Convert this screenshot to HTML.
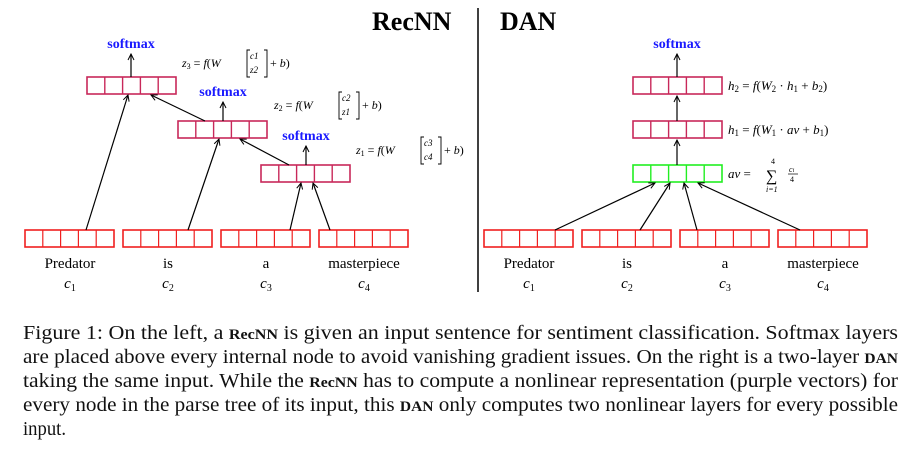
<!DOCTYPE html>
<html><head><style>
body{margin:0;width:924px;height:456px;background:#fff;overflow:hidden;position:relative;font-family:"Liberation Serif",serif}
</style></head><body>
<svg width="924" height="310" style="position:absolute;left:0;top:0" font-family="Liberation Serif, serif">
<defs><marker id="a" markerWidth="8" markerHeight="8" refX="7" refY="4" orient="auto" markerUnits="userSpaceOnUse"><path d="M1,1 L7,4 L1,7" fill="none" stroke="#000" stroke-width="1"/></marker>
<g id="rb"><rect x="0" y="0" width="89" height="17" fill="none" stroke="#c8285a" stroke-width="1.6"/><path d="M17.8,0v17M35.6,0v17M53.4,0v17M71.2,0v17" stroke="#c8285a" stroke-width="1.4"/></g>
<g id="red"><rect x="0" y="0" width="89" height="17" fill="none" stroke="#f02020" stroke-width="1.6"/><path d="M17.8,0v17M35.6,0v17M53.4,0v17M71.2,0v17" stroke="#f02020" stroke-width="1.2"/></g>
<g id="gr"><rect x="0" y="0" width="89" height="17" fill="none" stroke="#22ee22" stroke-width="1.6"/><path d="M17.8,0v17M35.6,0v17M53.4,0v17M71.2,0v17" stroke="#22ee22" stroke-width="1.4"/></g>
</defs>
<text x="372" y="30" font-size="26" font-weight="bold">RecNN</text>
<text x="500" y="30" font-size="26" font-weight="bold">DAN</text>
<line x1="478" y1="8" x2="478" y2="292" stroke="#000" stroke-width="1.5"/>
<g font-weight="bold" fill="#1a1aff" font-size="14" text-anchor="middle">
<text x="131" y="48">softmax</text><text x="223" y="96">softmax</text><text x="306" y="140">softmax</text><text x="677" y="48">softmax</text></g>
<use href="#rb" x="87" y="77"/><use href="#rb" x="178" y="121"/><use href="#rb" x="261" y="165"/>
<use href="#rb" x="633" y="77"/><use href="#rb" x="633" y="121"/><use href="#gr" x="633" y="165"/>
<use href="#red" x="25" y="230"/><use href="#red" x="123" y="230"/><use href="#red" x="221" y="230"/><use href="#red" x="319" y="230"/>
<use href="#red" x="484" y="230"/><use href="#red" x="582" y="230"/><use href="#red" x="680" y="230"/><use href="#red" x="778" y="230"/>
<g stroke="#000" stroke-width="1.2" marker-end="url(#a)">
<line x1="131" y1="77" x2="131" y2="54"/><line x1="223" y1="121" x2="223" y2="102"/><line x1="306" y1="165" x2="306" y2="146"/>
<line x1="677" y1="77" x2="677" y2="54"/><line x1="677" y1="121" x2="677" y2="96"/><line x1="677" y1="165" x2="677" y2="140"/>
<line x1="86" y1="230" x2="128" y2="95"/><line x1="188" y1="230" x2="219" y2="139"/><line x1="290" y1="230" x2="301" y2="183"/><line x1="330" y1="230" x2="313" y2="183"/>
<line x1="289" y1="165" x2="240" y2="139"/><line x1="205" y1="121" x2="151" y2="95"/>
<line x1="555" y1="230" x2="655" y2="183"/><line x1="640" y1="230" x2="670" y2="183"/><line x1="697" y1="230" x2="684" y2="183"/><line x1="800" y1="230" x2="698" y2="183"/>
</g>
<g font-size="15" text-anchor="middle">
<text x="70" y="268">Predator</text><text x="168" y="268">is</text><text x="266" y="268">a</text><text x="364" y="268">masterpiece</text>
<text x="529" y="268">Predator</text><text x="627" y="268">is</text><text x="725" y="268">a</text><text x="823" y="268">masterpiece</text>
<g font-style="italic"><text x="70" y="288">c<tspan font-size="10" dy="3" font-style="normal">1</tspan></text><text x="168" y="288">c<tspan font-size="10" dy="3" font-style="normal">2</tspan></text><text x="266" y="288">c<tspan font-size="10" dy="3" font-style="normal">3</tspan></text><text x="364" y="288">c<tspan font-size="10" dy="3" font-style="normal">4</tspan></text>
<text x="529" y="288">c<tspan font-size="10" dy="3" font-style="normal">1</tspan></text><text x="627" y="288">c<tspan font-size="10" dy="3" font-style="normal">2</tspan></text><text x="725" y="288">c<tspan font-size="10" dy="3" font-style="normal">3</tspan></text><text x="823" y="288">c<tspan font-size="10" dy="3" font-style="normal">4</tspan></text></g>
</g>
<g font-size="12">
<text x="182" y="67"><tspan font-style="italic">z</tspan><tspan font-size="8" dy="2">3</tspan><tspan dy="-2"> = </tspan><tspan font-style="italic">f</tspan>(<tspan font-style="italic">W</tspan></text>
<text x="250" y="59" font-size="9" font-style="italic">c1</text><text x="250" y="73" font-size="9" font-style="italic">z2</text>
<path d="M250,50h-3v27h3M264,50h3v27h-3" fill="none" stroke="#000" stroke-width="0.9"/><text x="270" y="67">+ <tspan font-style="italic">b</tspan>)</text>
<text x="274" y="109"><tspan font-style="italic">z</tspan><tspan font-size="8" dy="2">2</tspan><tspan dy="-2"> = </tspan><tspan font-style="italic">f</tspan>(<tspan font-style="italic">W</tspan></text>
<text x="342" y="101" font-size="9" font-style="italic">c2</text><text x="342" y="115" font-size="9" font-style="italic">z1</text>
<path d="M342,92h-3v27h3M356,92h3v27h-3" fill="none" stroke="#000" stroke-width="0.9"/><text x="362" y="109">+ <tspan font-style="italic">b</tspan>)</text>
<text x="356" y="154"><tspan font-style="italic">z</tspan><tspan font-size="8" dy="2">1</tspan><tspan dy="-2"> = </tspan><tspan font-style="italic">f</tspan>(<tspan font-style="italic">W</tspan></text>
<text x="424" y="146" font-size="9" font-style="italic">c3</text><text x="424" y="160" font-size="9" font-style="italic">c4</text>
<path d="M424,137h-3v27h3M438,137h3v27h-3" fill="none" stroke="#000" stroke-width="0.9"/><text x="444" y="154">+ <tspan font-style="italic">b</tspan>)</text>
</g>
<g font-size="13">
<text x="728" y="90"><tspan font-style="italic">h</tspan><tspan font-size="9" dy="2">2</tspan><tspan dy="-2"> = </tspan><tspan font-style="italic">f</tspan>(<tspan font-style="italic">W</tspan><tspan font-size="9" dy="2">2</tspan><tspan dy="-2"> · </tspan><tspan font-style="italic">h</tspan><tspan font-size="9" dy="2">1</tspan><tspan dy="-2"> + </tspan><tspan font-style="italic">b</tspan><tspan font-size="9" dy="2">2</tspan><tspan dy="-2">)</tspan></text>
<text x="728" y="134"><tspan font-style="italic">h</tspan><tspan font-size="9" dy="2">1</tspan><tspan dy="-2"> = </tspan><tspan font-style="italic">f</tspan>(<tspan font-style="italic">W</tspan><tspan font-size="9" dy="2">1</tspan><tspan dy="-2"> · </tspan><tspan font-style="italic">av</tspan> + <tspan font-style="italic">b</tspan><tspan font-size="9" dy="2">1</tspan><tspan dy="-2">)</tspan></text>
<text x="728" y="178"><tspan font-style="italic">av</tspan> = </text>
<text x="766" y="181" font-size="16">∑</text><text x="771" y="164" font-size="8">4</text><text x="766" y="192" font-size="8" font-style="italic">i=1</text>
<text x="789" y="172" font-size="8" font-style="italic">c<tspan font-size="6">i</tspan></text><line x1="788" y1="174" x2="798" y2="174" stroke="#000" stroke-width="0.7"/><text x="790" y="182" font-size="8">4</text>
</g>
</svg>
<svg width="924" height="146" style="position:absolute;left:0;top:310px" font-family="Liberation Serif, serif" font-size="20.5" fill="#111">
<text x="23" y="29" textLength="875" lengthAdjust="spacingAndGlyphs">Figure 1: On the left, a <tspan font-weight="bold" font-size="15">RecNN</tspan> is given an input sentence for sentiment classification. Softmax layers</text>
<text x="23" y="53" textLength="875" lengthAdjust="spacingAndGlyphs">are placed above every internal node to avoid vanishing gradient issues. On the right is a two-layer <tspan font-weight="bold" font-size="15">DAN</tspan></text>
<text x="23" y="77" textLength="875" lengthAdjust="spacingAndGlyphs">taking the same input. While the <tspan font-weight="bold" font-size="15">RecNN</tspan> has to compute a nonlinear representation (purple vectors) for</text>
<text x="23" y="101" textLength="875" lengthAdjust="spacingAndGlyphs">every node in the parse tree of its input, this <tspan font-weight="bold" font-size="15">DAN</tspan> only computes two nonlinear layers for every possible</text>
<text x="23" y="125" textLength="43" lengthAdjust="spacingAndGlyphs">input.</text>
</svg>
</body></html>
